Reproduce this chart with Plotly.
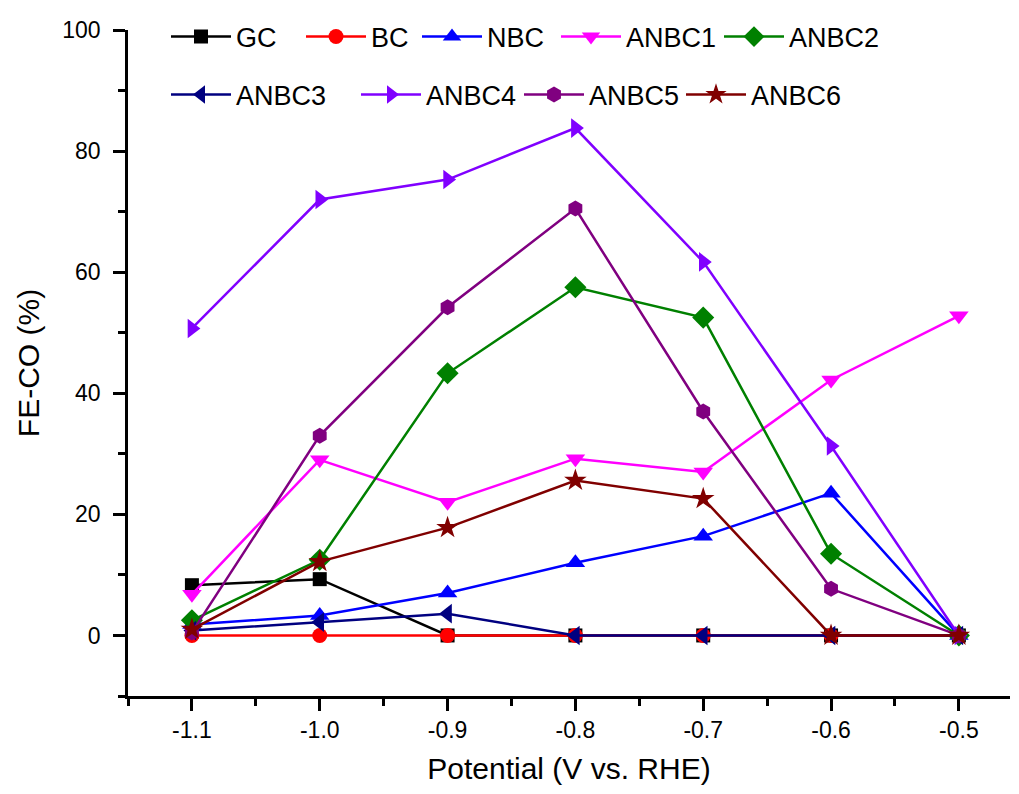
import plotly.graph_objects as go

potential = [-1.1, -1.0, -0.9, -0.8, -0.7, -0.6, -0.5]

names = ["GC", "BC", "NBC", "ANBC1", "ANBC2", "ANBC3", "ANBC4", "ANBC5", "ANBC6"]

GC    = [8.3, 9.3, 0.0, 0.0, 0.0, 0.0, 0.0]
BC    = [0.0, 0.0, 0.0, 0.0, 0.0, 0.0, 0.0]
NBC   = [1.8, 3.3, 7.0, 12.0, 16.4, 23.5, 0.0]
ANBC1 = [6.8, 29.0, 22.0, 29.2, 27.0, 42.2, 52.8]
ANBC2 = [2.5, 12.5, 43.3, 57.5, 52.5, 13.5, 0.0]
ANBC3 = [0.8, 2.2, 3.6, 0.0, 0.0, 0.0, 0.0]
ANBC4 = [50.7, 72.0, 75.3, 83.8, 61.7, 31.3, 0.0]
ANBC5 = [0.5, 33.0, 54.2, 70.5, 37.0, 7.7, 0.0]
ANBC6 = [1.0, 12.2, 17.8, 25.6, 22.6, 0.0, 0.0]

series = [GC, BC, NBC, ANBC1, ANBC2, ANBC3, ANBC4, ANBC5, ANBC6]
colors = ["#000000", "#FF0000", "#0000FF", "#FF00FF", "#008000",
          "#000080", "#8000FF", "#800080", "#800000"]
symbols = ["square", "circle", "triangle-up", "triangle-down", "diamond",
           "triangle-left", "triangle-right", "hexagon", "star"]
sizes = [14, 15, 17, 17, 17, 17, 17, 16, 17]

# legend layout: text start (px) and row for each entry
legend_text_x = [238, 373, 489, 628, 791, 238, 428, 591, 753]
legend_row = [0, 0, 0, 0, 0, 1, 1, 1, 1]
row_y = [0.9895, 0.9024]

PLOT_L, PLOT_R = 128, 1010
PLOT_W = PLOT_R - PLOT_L
TEXT_OFFSET = 72  # px from legend x to text start (itemwidth=60)

font = "Liberation Sans, Arial, sans-serif"

fig = go.Figure()
legends = {}
for i, (n, ys) in enumerate(zip(names, series)):
    key = "legend" if i == 0 else f"legend{i+1}"
    fig.add_trace(go.Scatter(
        x=potential, y=ys, name=n, mode="lines+markers",
        line=dict(color=colors[i], width=2.5),
        marker=dict(symbol=symbols[i], size=sizes[i], color=colors[i],
                    line=dict(width=0)),
        legend=key,
    ))
    legends[key] = dict(
        orientation="h", font=dict(family=font, size=27, color="black"),
        bgcolor="rgba(0,0,0,0)", itemwidth=60, xanchor="left", yanchor="middle",
        x=(legend_text_x[i] - TEXT_OFFSET - PLOT_L) / PLOT_W,
        y=row_y[legend_row[i]],
    )

fig.update_layout(
    width=1019, height=794,
    margin=dict(l=PLOT_L, r=1019 - PLOT_R, t=30, b=98),
    paper_bgcolor="white", plot_bgcolor="white",
    font=dict(family=font, color="black"),
    showlegend=True,
    xaxis=dict(
        range=[-1.15, -0.46], tickvals=[-1.1, -1.0, -0.9, -0.8, -0.7, -0.6, -0.5],
        ticktext=["-1.1", "-1.0", "-0.9", "-0.8", "-0.7", "-0.6", "-0.5"],
        ticks="outside", ticklen=12, tickwidth=2.5, tickcolor="black",
        minor=dict(dtick=0.05, tick0=-1.15, ticks="outside", ticklen=7,
                   tickwidth=2.5, tickcolor="black"),
        showline=True, linewidth=2.5, linecolor="black", showgrid=False,
        zeroline=False, tickfont=dict(size=23), automargin=False,
        title=dict(text="Potential (V vs. RHE)", font=dict(size=30), standoff=16),
    ),
    yaxis=dict(
        range=[-10, 100], tickvals=[0, 20, 40, 60, 80, 100],
        ticks="outside", ticklen=12, tickwidth=2.5, tickcolor="black",
        minor=dict(dtick=10, tick0=-10, ticks="outside", ticklen=7,
                   tickwidth=2.5, tickcolor="black"),
        showline=True, linewidth=2.5, linecolor="black", showgrid=False,
        zeroline=False, tickfont=dict(size=23), ticklabelstandoff=8,
        automargin=False,
        title=dict(text="FE-CO (%)", font=dict(size=30), standoff=14),
    ),
    **legends,
)

fig.write_html("out.html", config={"displayModeBar": False},
               post_script="document.body.style.margin='0';")
